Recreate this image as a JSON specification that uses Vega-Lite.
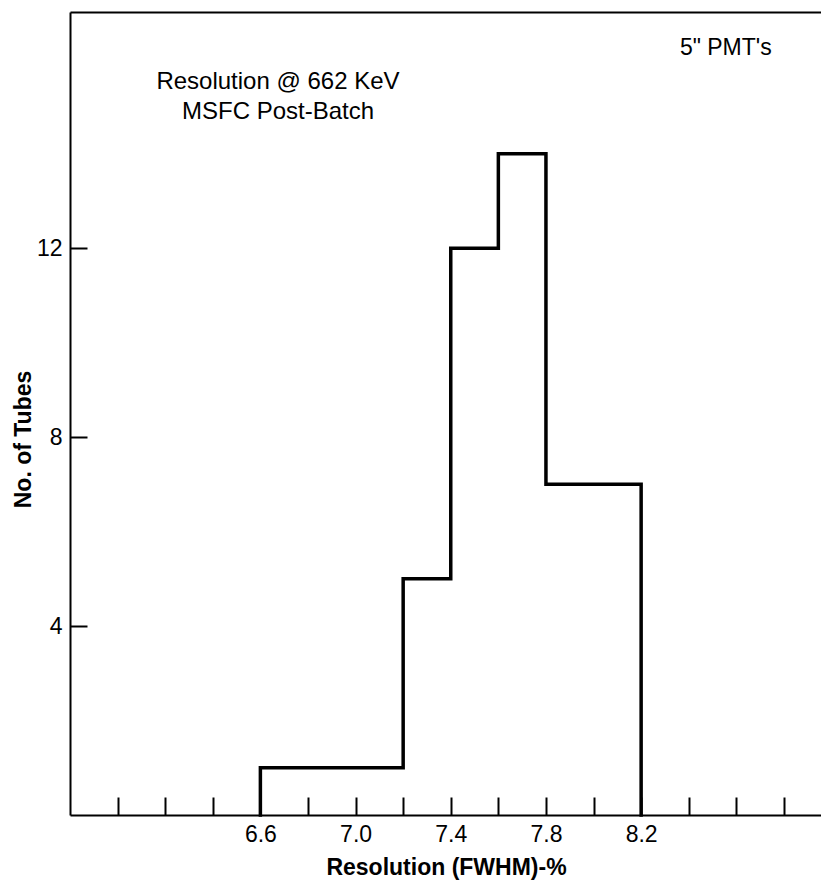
{
  "$schema": "https://vega.github.io/schema/vega-lite/v6.json",
  "width": 752,
  "height": 803,
  "autosize": {"type": "none"},
  "padding": {"left": 70, "top": 12, "right": 0, "bottom": 67},
  "background": "white",
  "config": {
    "view": {"stroke": null},
    "axis": {
      "grid": false,
      "domainColor": "black",
      "tickColor": "black",
      "labelColor": "black",
      "titleColor": "black",
      "labelFont": "Liberation Sans",
      "titleFont": "Liberation Sans"
    },
    "text": {"font": "Liberation Sans", "color": "black"}
  },
  "layer": [
    {
      "data": {
        "values": [
          {"step": 0, "resolution": 6.6, "tubes": 0},
          {"step": 1, "resolution": 6.6, "tubes": 1},
          {"step": 2, "resolution": 6.8, "tubes": 1},
          {"step": 3, "resolution": 7.0, "tubes": 1},
          {"step": 4, "resolution": 7.2, "tubes": 5},
          {"step": 5, "resolution": 7.4, "tubes": 12},
          {"step": 6, "resolution": 7.6, "tubes": 14},
          {"step": 7, "resolution": 7.8, "tubes": 7},
          {"step": 8, "resolution": 8.0, "tubes": 7},
          {"step": 9, "resolution": 8.2, "tubes": 0}
        ]
      },
      "mark": {"type": "line", "interpolate": "step-after", "color": "black", "strokeWidth": 3.5, "strokeJoin": "miter", "strokeCap": "square"},
      "encoding": {
        "x": {
          "field": "resolution", "type": "quantitative",
          "scale": {"domain": [5.8, 8.96], "nice": false, "zero": false},
          "axis": {
            "orient": "bottom",
            "values": [6.0, 6.2, 6.4, 6.6, 6.8, 7.0, 7.2, 7.4, 7.6, 7.8, 8.0, 8.2, 8.4, 8.6, 8.8],
            "tickSize": -18, "tickWidth": 2, "domainWidth": 2,
            "labels": false, "title": null
          }
        },
        "y": {
          "field": "tubes", "type": "quantitative",
          "scale": {"domain": [0, 17], "nice": false},
          "axis": {
            "orient": "left",
            "values": [4, 8, 12],
            "tickSize": -17, "tickWidth": 2, "domainWidth": 2,
            "labels": false, "title": null
          }
        },
        "order": {"field": "step", "type": "quantitative"}
      }
    },
    {
      "data": {"values": [{"note": "Resolution @ 662 KeV"}]},
      "mark": {"type": "text", "align": "center", "baseline": "alphabetic", "fontSize": 24},
      "encoding": {
        "text": {"field": "note"},
        "x": {
          "datum": 6.674, "type": "quantitative",
          "scale": {"domain": [5.8, 8.96], "nice": false, "zero": false},
          "axis": {
            "orient": "bottom",
            "values": [6.6, 7.0, 7.4, 7.8, 8.2],
            "format": ".1f",
            "ticks": false, "domain": false,
            "labelFontSize": 23, "labelPadding": 8,
            "title": "Resolution (FWHM)-%",
            "titleFontSize": 23, "titleFontWeight": "bold", "titlePadding": 10
          }
        },
        "y": {
          "datum": 15.36, "type": "quantitative",
          "scale": {"domain": [0, 17], "nice": false},
          "axis": {
            "orient": "left",
            "values": [4, 8, 12],
            "ticks": false, "domain": false,
            "labelFontSize": 23, "labelPadding": 8,
            "title": "No. of Tubes",
            "titleFontSize": 23, "titleFontWeight": "bold",
            "titleX": -47, "titleY": 427, "titleBaseline": "middle"
          }
        }
      }
    },
    {
      "data": {"values": [{"note": "MSFC Post-Batch"}]},
      "mark": {"type": "text", "align": "center", "baseline": "alphabetic", "fontSize": 24},
      "encoding": {
        "text": {"field": "note"},
        "x": {"datum": 6.674, "type": "quantitative", "scale": {"domain": [5.8, 8.96], "nice": false, "zero": false}, "axis": null},
        "y": {"datum": 14.73, "type": "quantitative", "scale": {"domain": [0, 17], "nice": false}, "axis": null}
      }
    },
    {
      "data": {"values": [{"note": "5\" PMT's"}]},
      "mark": {"type": "text", "align": "left", "baseline": "alphabetic", "fontSize": 23},
      "encoding": {
        "text": {"field": "note"},
        "x": {
          "datum": 8.363, "type": "quantitative",
          "scale": {"domain": [5.8, 8.96], "nice": false, "zero": false},
          "axis": {"orient": "top", "ticks": false, "labels": false, "domain": true, "domainWidth": 2, "title": null}
        },
        "y": {"datum": 16.1, "type": "quantitative", "scale": {"domain": [0, 17], "nice": false}, "axis": null}
      }
    }
  ],
  "resolve": {"axis": {"x": "independent", "y": "independent"}}
}
